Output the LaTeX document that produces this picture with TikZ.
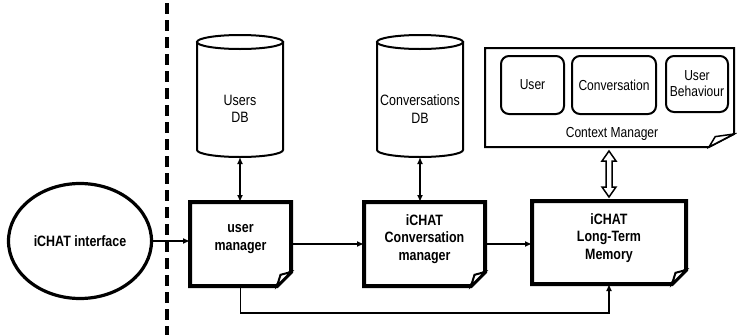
\documentclass[tikz,border=0pt]{standalone}
\usepackage{fontspec}
\setmainfont{Liberation Sans}[FakeStretch=0.83]
\usetikzlibrary{arrows.meta,calc,shapes.geometric}

\newcommand\foldbox[5]{% node, fold x, fold y, line width, flap line width
  \draw[line width=#4, line join=miter, fill=white] (#1.north west) -- (#1.north east) -- ([yshift=#3pt]#1.south east) -- ([xshift=-#2pt]#1.south east) -- (#1.south west) -- cycle;
  \draw[line width=#5, line join=miter, fill=white] ([yshift=#3pt]#1.south east) -- ([xshift={-0.75*#2pt},yshift={0.8*#3pt}]#1.south east) -- ([xshift=-#2pt]#1.south east) -- cycle;
}
\newcommand\dbcyl[1]{%
  \draw[line width=2pt, fill=white] ([yshift=-7pt]#1.north west) -- ([yshift=7pt]#1.south west) arc[start angle=180, end angle=360, x radius=43pt, y radius=7pt] -- ([yshift=-7pt]#1.north east) -- cycle;
  \draw[line width=2pt, fill=white] ([yshift=-7pt]#1.north) ellipse[x radius=43pt, y radius=7pt];
}

\begin{document}
\begin{tikzpicture}[x=1pt,y=-1pt,
  lbl/.style={font=\fontsize{15}{17.5}\selectfont\bfseries, align=center, inner sep=0pt},
  txt/.style={font=\fontsize{15}{17.5}\selectfont, align=center, inner sep=0pt},
  smalltxt/.style={font=\fontsize{14.5}{16}\selectfont, align=center, inner sep=0pt},
  boxnode/.style={inner sep=0pt, outer sep=0pt},
  conn/.style={line width=1.3pt, -{Latex[length=7pt,width=6pt]}},
  biconn/.style={line width=1.3pt, {Latex[length=7pt,width=6pt]}-{Latex[length=7pt,width=6pt]}},
  innerbox/.style={draw, line width=2pt, rounded corners=8pt, inner sep=0pt, align=center, font=\fontsize{14.5}{16}\selectfont}]
\useasboundingbox (0,0) rectangle (737,335);
\fill[white] (0,0) rectangle (737,335);

% separator
\draw[line width=3.5pt, dash pattern=on 11pt off 6pt] (167,3) -- (167,335);

% interface
\node[draw, ellipse, line width=3.2pt, minimum width=143pt, minimum height=115pt, inner sep=0pt, font=\fontsize{15}{17.5}\selectfont\bfseries] (ui) at (80,241) {iCHAT interface};

% managers
\node[boxnode, minimum width=101pt, minimum height=84pt] (um) at (240.5,244) {};
\node[boxnode, minimum width=121pt, minimum height=84pt] (cvm) at (424.5,244) {};
\node[boxnode, minimum width=154pt, minimum height=83pt] (ltm) at (609,242.5) {};
\foldbox{um}{14}{14}{4pt}{2pt}
\foldbox{cvm}{14}{14}{4pt}{2pt}
\foldbox{ltm}{14}{14}{4pt}{2pt}
\node[lbl] (umt) at (240.5,239) {user\\manager};
\node[lbl] (cvmt) at (424.5,239) {iCHAT\\Conversation\\manager};
\node[lbl] (ltmt) at (609,238) {iCHAT\\Long-Term\\Memory};

% databases
\node[boxnode, minimum width=86pt, minimum height=122pt] (udb) at (240,96) {};
\node[boxnode, minimum width=86pt, minimum height=122pt] (cdb) at (420,96) {};
\dbcyl{udb}
\dbcyl{cdb}
\node[txt] (udbt) at (240,109) {Users\\DB};
\node[txt] (cdbt) at (420,109) {Conversations\\DB};

% context manager
\node[boxnode, minimum width=249pt, minimum height=99pt] (ctx) at (609.5,97.5) {};
\foldbox{ctx}{25}{13}{2pt}{1.5pt}
\node[innerbox, minimum width=63pt, minimum height=58pt] (cu) at (532.5,85) {User};
\node[innerbox, minimum width=84pt, minimum height=58pt] (cc) at (614,85) {Conversation};
\node[innerbox, minimum width=62pt, minimum height=56pt] (cb) at (697,84) {User\\Behaviour};
\node[smalltxt] (ctxt) at (612,134) {Context Manager};

% connectors
\draw[conn] (ui.east) -- (ui.east -| um.west);
\draw[conn] (um.east) -- (cvm.west);
\draw[conn] (cvm.east) -- (cvm.east -| ltm.west);
\draw[biconn] (udb.south) -- (udb.south |- um.north);
\draw[biconn] (cdb.south) -- (cdb.south |- cvm.north);
\draw[conn] (um.south) -- ++(0,27) -| (ltm.south);

% hollow double arrow
\coordinate (dt) at ($(ltm.north |- ctx.south)+(0,4)$);
\coordinate (dbt) at ($(ltm.north)+(0,-4)$);
\draw[line width=1.5pt, line join=miter, fill=white] (dt) -- ($(dt)+(7,10)$) -- ($(dt)+(3,10)$) -- ($(dbt)+(3,-10)$) -- ($(dbt)+(7,-10)$) -- (dbt) -- ($(dbt)+(-7,-10)$) -- ($(dbt)+(-3,-10)$) -- ($(dt)+(-3,10)$) -- ($(dt)+(-7,10)$) -- cycle;
\end{tikzpicture}
\end{document}
